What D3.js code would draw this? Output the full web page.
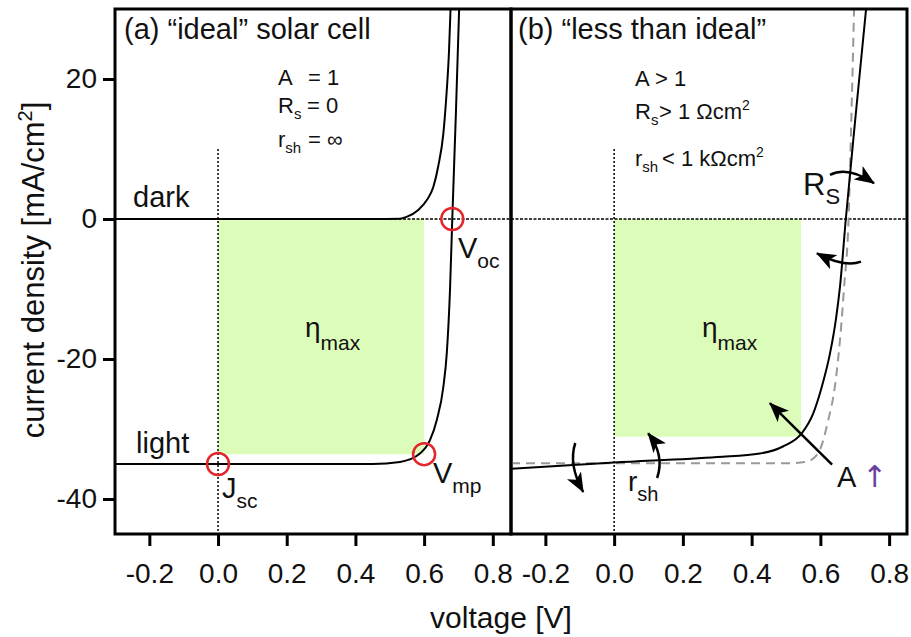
<!DOCTYPE html>
<html lang="en">
<head>
<meta charset="utf-8">
<script src="https://cdn.jsdelivr.net/npm/d3@7"></script>
<style>
body { margin: 0; background: #fff; }
svg text { font-family: "Liberation Sans", Arial, Helvetica, sans-serif; fill: #111; }
</style>
</head>
<body>
<script>
// axis ticks (both panels share them)
var xTicks = [-0.2, 0.0, 0.2, 0.4, 0.6, 0.8];
var xTickLabels = ["-0.2", "0.0", "0.2", "0.4", "0.6", "0.8"];
var yTicks = [20, 0, -20, -40];
var yTickLabels = ["20", "0", "-20", "-40"];

// (a) ideal cell : [voltage V, current density mA/cm2]
var darkA = [[-0.3, 0], [0.45, 0], [0.53, 0.05], [0.549, 0.3], [0.583, 1.3], [0.608, 2.7],
             [0.627, 4.6], [0.641, 7.5], [0.656, 12.2], [0.664, 17], [0.6725, 24], [0.677, 30]];
var lightA = [[-0.3, -35], [0.45, -35], [0.53, -34.7], [0.588, -33.5], [0.617, -31.6],
              [0.637, -28.7], [0.656, -24], [0.666, -19.2], [0.6755, -10], [0.682, 0],
              [0.6925, 15], [0.702, 30]];
var circlesA = [[0, -35], [0.682, 0], [0.6, -33.6]];   // Jsc, Voc, Vmp
var mppA = [0.6, -33.6];

// (b) less than ideal
var lightB = [[-0.3, -35.7], [0, -34.8], [0.3, -34.0], [0.424, -33.5], [0.491, -32.5],
              [0.546, -30.6], [0.579, -27.8], [0.604, -24], [0.628, -19.2], [0.645, -14.4],
              [0.657, -9.7], [0.674, 0], [0.703, 15], [0.733, 30]];
var idealB = [[-0.3, -34.9], [0.5, -34.9], [0.558, -34.7], [0.593, -33.5], [0.623, -28.7],
              [0.642, -24], [0.662, -14.4], [0.669, -9.7], [0.682, 0], [0.689, 12.3], [0.698, 30]];
var mppB = [0.544, -31.1];
// arrows: start, control, tip (data units)
var arrowsB = [
  [[0.628, 6.3], [0.680, 7.6], [0.756, 5.1]],
  [[0.718, -6.1], [0.672, -7.0], [0.590, -4.9]],
  [[0.634, -35.1], [0.543, -30.7], [0.453, -26.3]],
  [[-0.113, -32], [-0.134, -35.1], [-0.09, -39]],
  [[0.125, -37], [0.148, -33.7], [0.099, -30.6]]
];

var width = 911, height = 637;
var svg = d3.select("body").append("svg")
  .attr("width", width).attr("height", height);

var y = d3.scaleLinear().domain([-45, 30]).range([534, 9]);
var xA = d3.scaleLinear().domain([-0.3, 0.853]).range([115, 511]);
var xB = d3.scaleLinear().domain([-0.3, 0.852]).range([511, 907]);

var defs = svg.append("defs");
defs.append("marker")
  .attr("id", "head")
  .attr("viewBox", "0 0 20 16")
  .attr("refX", 19).attr("refY", 8)
  .attr("markerWidth", 20).attr("markerHeight", 16)
  .attr("markerUnits", "userSpaceOnUse")
  .attr("orient", "auto")
  .append("path").attr("d", "M0,0 L20,8 L0,16 L5,8 Z").attr("fill", "#000");

function panel(x, id) {
  var g = svg.append("g");
  defs.append("clipPath").attr("id", id)
    .append("rect")
    .attr("x", x.range()[0]).attr("y", y.range()[1])
    .attr("width", x.range()[1] - x.range()[0]).attr("height", y.range()[0] - y.range()[1]);
  var inner = g.append("g").attr("clip-path", "url(#" + id + ")");
  return { g: g, inner: inner, x: x };
}

function drawRect(p, mpp) {
  p.inner.append("rect")
    .attr("x", p.x(0)).attr("y", y(0))
    .attr("width", p.x(mpp[0]) - p.x(0))
    .attr("height", y(mpp[1]) - y(0))
    .attr("fill", "#dcfcba");
}

function dotted(p) {
  p.inner.append("line")
    .attr("x1", p.x(0)).attr("x2", p.x(0))
    .attr("y1", y(10)).attr("y2", y(-45))
    .attr("stroke", "#000").attr("stroke-width", 1.5).attr("stroke-dasharray", "2,2");
  p.inner.append("line")
    .attr("x1", p.x.range()[0]).attr("x2", p.x.range()[1])
    .attr("y1", y(0)).attr("y2", y(0))
    .attr("stroke", "#000").attr("stroke-width", 1.5).attr("stroke-dasharray", "3,1.5");
}

function curve(p, data, dashed) {
  var line = d3.line()
    .x(function(d) { return p.x(d[0]); })
    .y(function(d) { return y(d[1]); })
    .curve(d3.curveMonotoneX);
  p.inner.append("path")
    .datum(data)
    .attr("d", line)
    .attr("fill", "none")
    .attr("stroke", dashed ? "#999" : "#000")
    .attr("stroke-width", 2)
    .attr("stroke-dasharray", dashed ? "9,6" : null);
}

function frame(p, withY) {
  p.g.append("rect")
    .attr("x", p.x.range()[0]).attr("y", y.range()[1])
    .attr("width", p.x.range()[1] - p.x.range()[0])
    .attr("height", y.range()[0] - y.range()[1])
    .attr("fill", "none").attr("stroke", "#000").attr("stroke-width", 3);

  var ax = p.g.append("g")
    .attr("transform", "translate(0," + y.range()[0] + ")")
    .call(d3.axisBottom(p.x).tickValues(xTicks)
      .tickFormat(function(d, i) { return xTickLabels[i]; })
      .tickSize(12).tickPadding(17));
  styleAxis(ax);

  if (withY) {
    var ay = p.g.append("g")
      .attr("transform", "translate(" + p.x.range()[0] + ",0)")
      .call(d3.axisLeft(y).tickValues(yTicks)
        .tickFormat(function(d, i) { return yTickLabels[i]; })
        .tickSize(12).tickPadding(6));
    styleAxis(ay);
  }
}

function styleAxis(a) {
  a.select(".domain").remove();
  a.selectAll(".tick line").attr("stroke", "#000").attr("stroke-width", 3);
  a.selectAll(".tick text")
    .attr("font-size", 28)
    .attr("font-family", "Liberation Sans, Arial, sans-serif")
    .attr("fill", "#111");
}

// text helper: parts = [text, size, dy, x, fill, family]
function label(x0, y0, parts) {
  var t = svg.append("text").attr("x", x0).attr("y", y0);
  parts.forEach(function(pt) {
    var s = t.append("tspan").attr("font-size", pt[1]).text(pt[0]);
    if (pt[2]) s.attr("dy", pt[2]);
    if (pt[3] !== undefined) s.attr("x", pt[3]);
    if (pt[4]) s.attr("fill", pt[4]);
    if (pt[5]) s.attr("font-family", pt[5]);
  });
  return t;
}

// ---------- panel (a)
var pa = panel(xA, "clipA");
drawRect(pa, mppA);
dotted(pa);
curve(pa, darkA, false);
curve(pa, lightA, false);
pa.inner.selectAll("circle.mark")
  .data(circlesA)
  .enter().append("circle")
  .attr("cx", function(d) { return xA(d[0]); })
  .attr("cy", function(d) { return y(d[1]); })
  .attr("r", 11)
  .attr("fill", "none").attr("stroke", "#e3262b").attr("stroke-width", 2.5);
frame(pa, true);

// ---------- panel (b)
var pb = panel(xB, "clipB");
drawRect(pb, mppB);
dotted(pb);
curve(pb, idealB, true);
curve(pb, lightB, false);
pb.inner.selectAll("path.arrow")
  .data(arrowsB)
  .enter().append("path")
  .attr("class", "arrow")
  .attr("d", function(d) {
    return "M" + xB(d[0][0]) + "," + y(d[0][1]) +
           "Q" + xB(d[1][0]) + "," + y(d[1][1]) +
           " " + xB(d[2][0]) + "," + y(d[2][1]);
  })
  .attr("fill", "none").attr("stroke", "#000").attr("stroke-width", 2.5)
  .attr("marker-end", "url(#head)");
frame(pb, false);

// ---------- texts
label(124, 39, [["(a) \u201cideal\u201d solar cell", 29]]);
label(518, 39, [["(b) \u201cless than ideal\u201d", 29]]);

label(278, 85, [["A", 22], ["= 1", 22, 0, 308]]);
label(278, 113, [["R", 22], ["s", 15, 6], ["= 0", 22, -6, 307]]);
label(278, 147, [["r", 22], ["sh", 15, 6], ["= \u221e", 22, -6, 308]]);

label(635, 86, [["A", 22], ["> 1", 22, 0, 655]]);
label(635, 119, [["R", 22], ["s", 15, 6], ["> 1 \u03a9cm", 22, -6, 659], ["2", 14, -9]]);
label(635, 166, [["r", 22], ["sh", 15, 6], ["< 1 k\u03a9cm", 22, -6, 662], ["2", 14, -9]]);

label(133, 207, [["dark", 29]]);
label(136, 453, [["light", 29]]);
label(458, 258, [["V", 29], ["oc", 21, 10]]);
label(433, 483, [["V", 29], ["mp", 21, 10]]);
label(222, 498, [["J", 29], ["sc", 21, 10]]);
label(305, 337, [["\u03b7", 28], ["max", 21, 13]]);
label(702, 337, [["\u03b7", 28], ["max", 21, 13]]);

label(803, 195, [["R", 31], ["S", 22, 9]]);
label(628, 491, [["r", 28], ["sh", 20, 10]]);
label(837, 487, [["A", 29], ["\u2191", 30, 0, 862, "#6b3fa0", "DejaVu Sans"]]);

// axis titles
var yTitle = svg.append("text")
  .attr("transform", "translate(44,270) rotate(-90)")
  .attr("text-anchor", "middle")
  .attr("font-size", 31);
yTitle.append("tspan").text("current density [mA/cm");
yTitle.append("tspan").attr("font-size", 20).attr("dy", -12).text("2");
yTitle.append("tspan").attr("dy", 12).text("]");

svg.append("text")
  .attr("x", 501).attr("y", 628)
  .attr("text-anchor", "middle")
  .attr("font-size", 30)
  .text("voltage [V]");
</script>
</body>
</html>
